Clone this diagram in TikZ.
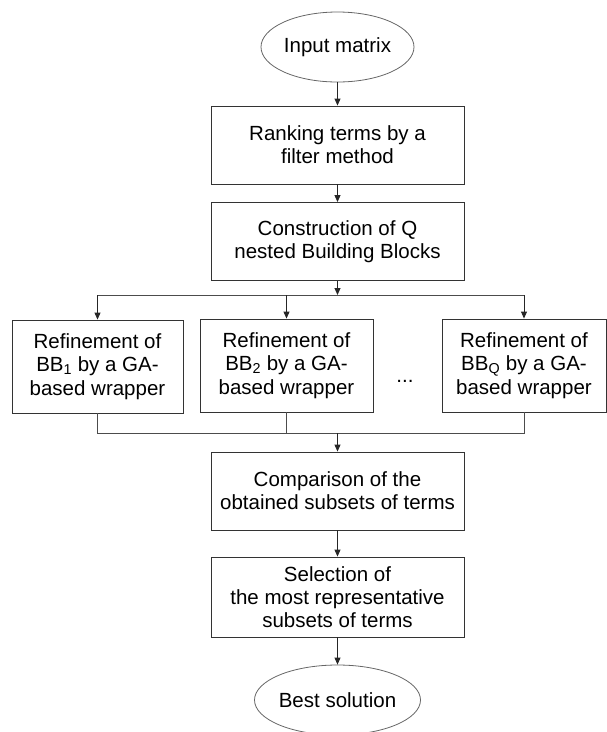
\documentclass[tikz,border=0pt]{standalone}
\usepackage{fontspec}
\setmainfont{Liberation Sans}
\usetikzlibrary{arrows.meta,shapes.geometric}
\begin{document}
\begin{tikzpicture}[x=1pt,y=-1pt,
  txt/.style={font=\fontsize{20.5}{23.3}\selectfont},
  box/.style={txt, draw=black!80, line width=0.9pt, rectangle, inner sep=0pt, align=center},
  midbox/.style={box, minimum width=253pt, minimum height=78pt},
  bbbox/.style={box, minimum width=171pt, minimum height=93pt},
  term/.style={txt, draw=black!60, line width=0.8pt, ellipse, inner sep=0pt, minimum width=153pt, minimum height=70pt},
  arr/.style={-{Triangle[length=7pt,width=6pt]}, line width=0.9pt, draw=black!85},
  ln/.style={line width=0.9pt, draw=black!70}]
\useasboundingbox (0,0) rectangle (607,732);
\node[term] (in) at (337.5,47) {Input matrix};
\node[midbox] (rank) at (337.5,145) {Ranking terms by a\\filter method};
\node[midbox] (cons) at (337.5,241.5) {Construction of Q\\nested Building Blocks};
\node[bbbox] (b1) at (97.5,366.5) {Refinement of\\BB\textsubscript{1} by a GA-\\based wrapper};
\node[bbbox, minimum width=173pt] (b2) at (286.5,365.5) {Refinement of\\BB\textsubscript{2} by a GA-\\based wrapper};
\node[bbbox, minimum width=164pt] (bq) at (524,365.5) {Refinement of\\BB\textsubscript{Q} by a GA-\\based wrapper};
\node[txt, inner sep=0pt] (dots) at (405,381) {...};
\node[midbox] (comp) at (337.5,491) {Comparison of the\\obtained subsets of terms};
\node[midbox, minimum height=80pt] (sel) at (337.5,597) {Selection of\\the most representative\\subsets of terms};
\node[term] (out) at (337.5,700) {Best solution};
\coordinate (split) at (337.5,295);
\coordinate (join) at (337.5,433);
\draw[arr] (in) -- (rank);
\draw[arr] (rank) -- (cons);
\draw[arr] (cons) -- (split);
\draw[ln] (b1.north |- split) -- (bq.north |- split);
\draw[arr] (b1.north |- split) -- (b1.north);
\draw[arr] (b2.north |- split) -- (b2.north);
\draw[arr] (bq.north |- split) -- (bq.north);
\draw[ln] (b1.south) -- (b1.south |- join) -- (bq.south |- join) -- (bq.south);
\draw[ln] (b2.south) -- (b2.south |- join);
\draw[arr] (join) -- (comp);
\draw[arr] (comp) -- (sel);
\draw[arr] (sel) -- (out);
\end{tikzpicture}
\end{document}
